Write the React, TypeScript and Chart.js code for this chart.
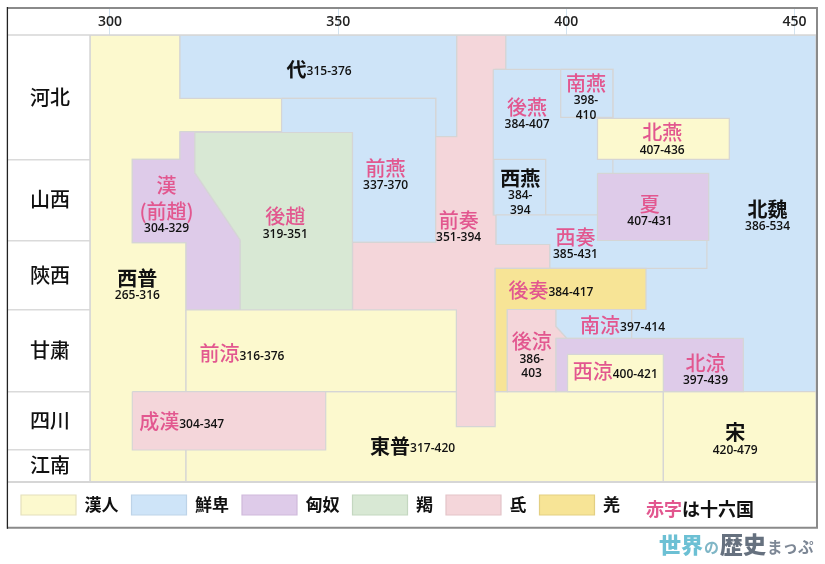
import React, { useEffect, useRef } from 'react';
import { Chart, registerables } from 'chart.js';

Chart.register(...registerables);

type Pt = [number, number];

// ---------- axes ----------
const yearTicks = [300, 350, 400, 450];
const yearMin = 295.62;
const yearMax = 454.71;
const regionNames = ['河北', '山西', '陝西', '甘粛', '四川', '江南'];
const regionBounds = [0, 124.3, 205.5, 275, 356.7, 414.5, 447];

// ---------- peoples (legend) ----------
const peoples = ['漢人', '鮮卑', '匈奴', '羯', '氐', '羌'];
const peopleColors = ['#fcf9ce', '#cee4f8', '#decbe9', '#d8e8d4', '#f4d6da', '#f7e496'];
const peopleEdges = ['#e4e0bc', '#bdd3e8', '#cfbadb', '#c4d7c0', '#e3c4c8', '#e3cf82'];

// ---------- territories: [year, band position] ----------
const beiWei: Pt[] = [[386.7, 0], [454.71, 0], [454.71, 356.7], [386.7, 356.7]];
const xiJin: Pt[] = [[295.62, 0], [315.34, 0], [315.34, 63.3], [337.6, 63.3], [337.6, 96.7], [315.34, 96.7], [315.34, 124.3], [304.89, 124.3], [304.89, 207.6], [316.66, 207.6], [316.66, 447], [295.62, 447]];
const dongJin: Pt[] = [[316.66, 356.7], [421.25, 356.7], [421.25, 447], [316.66, 447]];
const song: Pt[] = [[421.25, 356.7], [454.71, 356.7], [454.71, 447], [421.25, 447]];
const dai: Pt[] = [[315.34, 0], [376, 0], [376, 101.7], [371.37, 101.7], [371.37, 63.3], [315.34, 63.3]];
const qianYan: Pt[] = [[337.6, 63.3], [371.37, 63.3], [371.37, 207.3], [337.6, 207.3]];
const qianQin: Pt[] = [[376, 0], [386.7, 0], [386.7, 34.3], [384.6, 34.3], [384.6, 209.5], [396.4, 209.5], [396.4, 233.3], [384.4, 233.3], [384.4, 391.7], [375.9, 391.7], [375.9, 275], [353.14, 275], [353.14, 207.3], [371.37, 207.3], [371.37, 101.7], [376, 101.7]];
const hanZhao: Pt[] = [[315.34, 96.7], [318.6, 96.7], [318.6, 137.7], [328.55, 205], [328.55, 275], [316.66, 275], [316.66, 207.6], [304.89, 207.6], [304.89, 124.3], [315.34, 124.3]];
const houZhao: Pt[] = [[318.6, 97.5], [353.14, 97.5], [353.14, 275], [328.55, 275], [328.55, 205], [318.6, 137.7]];
const qianLiang: Pt[] = [[316.66, 275], [375.9, 275], [375.9, 356.7], [316.66, 356.7]];
const chengHan: Pt[] = [[304.89, 356.7], [347.27, 356.7], [347.27, 415], [304.89, 415]];
const houYan: Pt[] = [[383.99, 34.3], [410.2, 34.3], [410.2, 180], [383.99, 180]];
const nanYan: Pt[] = [[398.77, 34.3], [410.2, 34.3], [410.2, 82.3], [398.77, 82.3]];
const beiYan: Pt[] = [[406.83, 83.3], [435.71, 83.3], [435.71, 124.3], [406.83, 124.3]];
const xiYan: Pt[] = [[384.1, 124.3], [395.48, 124.3], [395.48, 180], [384.1, 180]];
const xiQin: Pt[] = [[384.6, 180], [430.8, 180], [430.8, 233.3], [396.4, 233.3], [396.4, 209.5], [384.6, 209.5]];
const xia: Pt[] = [[406.83, 138.3], [431.2, 138.3], [431.2, 205.5], [406.83, 205.5]];
const houQin: Pt[] = [[384.4, 233.3], [417.46, 233.3], [417.46, 274.5], [387.07, 274.5], [387.07, 356.7], [384.4, 356.7]];
const houLiang: Pt[] = [[387.07, 274.5], [397.74, 274.5], [397.74, 291.5], [400.14, 303.3], [397.74, 303.3], [397.74, 356.7], [387.07, 356.7]];
const nanLiang: Pt[] = [[397.74, 274.5], [414.32, 274.5], [414.32, 303.3], [400.14, 303.3], [397.74, 291.5]];
const beiLiang: Pt[] = [[397.74, 303.3], [438.78, 303.3], [438.78, 356.7], [397.74, 356.7]];
const xiLiang: Pt[] = [[400.26, 319.3], [421.25, 319.3], [421.25, 356.7], [400.26, 356.7]];

// draw order: first = bottom
const shapes: { name: string; people: number; poly: Pt[] }[] = [
  { name: '北魏', people: 1, poly: beiWei },
  { name: '西普', people: 0, poly: xiJin },
  { name: '東普', people: 0, poly: dongJin },
  { name: '宋', people: 0, poly: song },
  { name: '代', people: 1, poly: dai },
  { name: '前燕', people: 1, poly: qianYan },
  { name: '前奏', people: 4, poly: qianQin },
  { name: '漢', people: 2, poly: hanZhao },
  { name: '後趙', people: 3, poly: houZhao },
  { name: '前涼', people: 0, poly: qianLiang },
  { name: '成漢', people: 4, poly: chengHan },
  { name: '後燕', people: 1, poly: houYan },
  { name: '南燕', people: 1, poly: nanYan },
  { name: '北燕', people: 0, poly: beiYan },
  { name: '西燕', people: 1, poly: xiYan },
  { name: '西奏', people: 1, poly: xiQin },
  { name: '夏', people: 2, poly: xia },
  { name: '後奏', people: 5, poly: houQin },
  { name: '後涼', people: 4, poly: houLiang },
  { name: '南涼', people: 1, poly: nanLiang },
  { name: '北涼', people: 2, poly: beiLiang },
  { name: '西涼', people: 0, poly: xiLiang },
];

// ---------- labels ----------
const labelNames = ['代', '西普', '漢\n(前趙)', '後趙', '前燕', '前奏', '前涼', '成漢', '東普', '後燕', '南燕', '北燕', '西燕', '夏', '西奏', '北魏', '後奏', '後涼', '南涼', '西涼', '北涼', '宋'];
const labelYears = [['315-376'], ['265-316'], ['304-329'], ['319-351'], ['337-370'], ['351-394'], ['316-376'], ['304-347'], ['317-420'], ['384-407'], ['398-', '410'], ['407-436'], ['384-', '394'], ['407-431'], ['385-431'], ['386-534'], ['384-417'], ['386-', '403'], ['397-414'], ['400-421'], ['397-439'], ['420-479']];
const labelSixteen = [false, false, true, true, true, true, true, true, false, true, true, true, false, true, true, false, true, true, true, true, true, false];
// anchor [year, band position, inline]
const labelAnchors: [number, number, boolean][] = [
  [338.7, 34, true],
  [306.0, 243.3, false],
  [312.4, 150, false],
  [338.4, 181.7, false],
  [360.4, 133.3, false],
  [376.4, 185, false],
  [319.6, 318.3, true],
  [306.4, 386.7, true],
  [357.0, 411, true],
  [391.4, 72, false],
  [404.3, 48.3, false],
  [421.0, 97.7, false],
  [389.9, 143.3, false],
  [418.3, 169, false],
  [402.0, 202.3, false],
  [444.1, 174.3, false],
  [387.3, 255, true],
  [392.4, 306.7, false],
  [403.0, 290, true],
  [401.4, 336.7, true],
  [430.5, 328.3, false],
  [437.0, 397.7, false],
];

const PINK = '#e2578f';
const CJK = '"Noto Sans CJK JP", "Noto Sans CJK SC", sans-serif';
const YEAR_FONT = '600 12px "Open Sans", sans-serif';

const regionCenters = regionNames.map((_, i) => (regionBounds[i] + regionBounds[i + 1]) / 2);
const innerBounds = regionBounds.slice(1, -1);

const polygonFill = {
  id: 'polygonFill',
  beforeDatasetDraw(chart: any, args: any) {
    const ctx = chart.ctx;
    const pts = args.meta.data;
    const ds = chart.data.datasets[args.index];
    if (!pts.length) return;
    ctx.save();
    ctx.beginPath();
    pts.forEach((p: any, i: number) => (i ? ctx.lineTo(p.x, p.y) : ctx.moveTo(p.x, p.y)));
    ctx.closePath();
    ctx.fillStyle = ds.backgroundColor;
    ctx.fill();
    ctx.restore();
  },
};

const labelPlugin = {
  id: 'kingdomLabels',
  afterDatasetsDraw(chart: any) {
    const { ctx, scales } = chart;
    const xs = scales.x;
    const ys = scales.y;
    labelNames.forEach((name, i) => {
      const [ax, ay, inline] = labelAnchors[i];
      const px = xs.getPixelForValue(ax);
      const py = ys.getPixelForValue(ay);
      const red = labelSixteen[i];
      const nameFont = `${red ? 500 : 700} 20px ${CJK}`;
      ctx.save();
      ctx.textBaseline = 'middle';
      if (inline) {
        ctx.textAlign = 'left';
        ctx.font = nameFont;
        ctx.fillStyle = red ? PINK : '#111';
        ctx.fillText(name, px, py);
        const w = ctx.measureText(name).width;
        ctx.font = YEAR_FONT;
        ctx.fillStyle = '#111';
        ctx.fillText(labelYears[i][0], px + w, py + 3);
      } else {
        ctx.textAlign = 'center';
        const lines = name.split('\n');
        ctx.font = nameFont;
        ctx.fillStyle = red ? PINK : '#111';
        lines.forEach((ln, j) => ctx.fillText(ln, px, py + j * 26));
        ctx.font = YEAR_FONT;
        ctx.fillStyle = '#111';
        const base = py + (lines.length - 1) * 26 + 17.5;
        labelYears[i].forEach((t, j) => ctx.fillText(t, px, base + j * 14.5));
      }
      ctx.restore();
    });
  },
};

const framePlugin = {
  id: 'frame',
  afterDraw(chart: any) {
    const { ctx, chartArea } = chart;
    const { top, bottom, left, right } = chartArea;
    ctx.save();
    // inner separators
    ctx.strokeStyle = '#d6d6d6';
    ctx.lineWidth = 1.5;
    ctx.beginPath();
    ctx.moveTo(8, top); ctx.lineTo(right, top);
    ctx.moveTo(left, top); ctx.lineTo(left, bottom);
    ctx.stroke();
    ctx.lineWidth = 2;
    ctx.beginPath();
    ctx.moveTo(8, bottom); ctx.lineTo(right, bottom);
    ctx.stroke();
    // outer frame
    ctx.strokeStyle = '#8a8a8a';
    ctx.lineWidth = 2;
    ctx.beginPath();
    ctx.moveTo(7, 8); ctx.lineTo(818, 8);
    ctx.moveTo(817, 7); ctx.lineTo(817, 528.7);
    ctx.moveTo(7, 527.7); ctx.lineTo(818, 527.7);
    ctx.stroke();
    ctx.strokeStyle = '#222';
    ctx.lineWidth = 1.3;
    ctx.beginPath();
    ctx.moveTo(7.4, 7); ctx.lineTo(7.4, 528.7);
    ctx.stroke();

    // legend note
    const noteY = bottom + 27;
    ctx.textBaseline = 'middle';
    ctx.textAlign = 'left';
    ctx.font = `700 18px ${CJK}`;
    ctx.fillStyle = PINK;
    ctx.fillText('赤字', 646, noteY);
    const w1 = ctx.measureText('赤字').width;
    ctx.fillStyle = '#111';
    ctx.fillText('は十六国', 646 + w1, noteY);

    // watermark
    ctx.textBaseline = 'alphabetic';
    let x = 659;
    const by = 553;
    const parts: [string, string, string][] = [
      ['世界', `900 22px ${CJK}`, '#6cc0d4'],
      ['の', `700 15px ${CJK}`, '#7fb6c6'],
      ['歴史', `900 23px ${CJK}`, '#66717f'],
      ['まっぷ', `700 15.5px ${CJK}`, '#7d8795'],
    ];
    parts.forEach(([t, f, c]) => {
      ctx.font = f;
      ctx.fillStyle = c;
      ctx.fillText(t, x, by);
      x += ctx.measureText(t).width + 1;
    });
    ctx.restore();
  },
};

export default function App() {
  const ref = useRef<HTMLCanvasElement | null>(null);

  useEffect(() => {
    if (!ref.current) return;
    const datasets = shapes
      .slice()
      .reverse()
      .map((s) => ({
        label: s.name,
        data: s.poly.concat([s.poly[0]]).map(([x, y]) => ({ x, y })),
        showLine: true,
        tension: 0,
        borderColor: '#d5d5d5',
        borderWidth: 1.2,
        backgroundColor: peopleColors[s.people],
        pointRadius: 0,
        pointHoverRadius: 0,
        fill: false,
      }));

    const chart = new Chart(ref.current, {
      type: 'scatter',
      data: { datasets },
      plugins: [polygonFill, labelPlugin, framePlugin],
      options: {
        animation: false,
        responsive: false,
        events: [],
        layout: { padding: { left: 8, top: 8, right: 9, bottom: 39 } },
        plugins: {
          tooltip: { enabled: false },
          legend: {
            display: true,
            position: 'bottom',
            align: 'start',
            onClick: () => {},
            labels: {
              boxWidth: 55,
              boxHeight: 20,
              padding: 13,
              color: '#111',
              font: { family: CJK, size: 17, weight: 'bold' },
              generateLabels: () =>
                peoples.map((p, i) => ({
                  text: p,
                  fillStyle: peopleColors[i],
                  strokeStyle: peopleEdges[i],
                  lineWidth: 1.2,
                  hidden: false,
                  index: i,
                  fontColor: '#111',
                })),
            },
          },
        },
        scales: {
          x: {
            type: 'linear',
            position: 'top',
            min: yearMin,
            max: yearMax,
            afterBuildTicks: (axis: any) => {
              axis.ticks = yearTicks.map((v) => ({ value: v }));
            },
            afterFit: (axis: any) => {
              axis.height = 27;
            },
            ticks: {
              autoSkip: false,
              maxRotation: 0,
              padding: -22,
              color: '#222',
              font: { family: '"Open Sans", sans-serif', size: 14, weight: '600' },
              callback: (v: any) => String(v),
            },
            grid: { drawOnChartArea: false, drawTicks: true, tickLength: 27, color: '#d3e3ef', lineWidth: 1 },
            border: { display: false },
          },
          y: {
            type: 'linear',
            position: 'left',
            reverse: true,
            min: regionBounds[0],
            max: regionBounds[regionBounds.length - 1],
            afterBuildTicks: (axis: any) => {
              axis.ticks = [...innerBounds, ...regionCenters].sort((a, b) => a - b).map((v) => ({ value: v }));
            },
            afterFit: (axis: any) => {
              axis.width = 82;
            },
            ticks: {
              autoSkip: false,
              crossAlign: 'center',
              padding: -62,
              color: '#111',
              font: { family: CJK, size: 20, weight: '500' },
              callback: (v: any) => {
                const i = regionCenters.findIndex((c) => Math.abs(c - v) < 0.01);
                return i >= 0 ? regionNames[i] : '';
              },
            },
            grid: {
              drawOnChartArea: false,
              drawTicks: true,
              tickLength: 82,
              lineWidth: 1.5,
              color: (c: any) =>
                c.tick && innerBounds.some((b) => Math.abs(b - c.tick.value) < 0.01) ? '#dadada' : 'rgba(0,0,0,0)',
            },
            border: { display: false },
          },
        },
      } as any,
    });
    return () => chart.destroy();
  }, []);

  return (
    <div style={{ position: 'absolute', left: 0, top: 0, width: 825, height: 564, background: '#fff' }}>
      <canvas ref={ref} width={825} height={564} style={{ display: 'block' }} />
    </div>
  );
}
